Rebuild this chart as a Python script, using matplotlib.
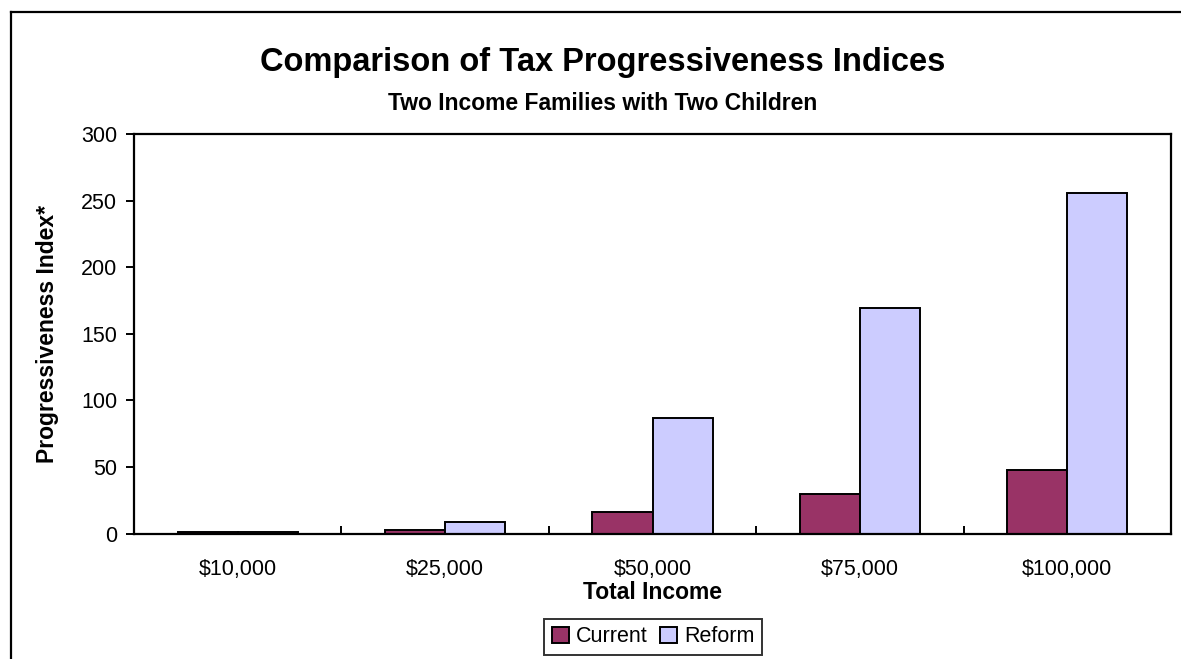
import matplotlib
matplotlib.use("Agg")
import matplotlib.pyplot as plt
from matplotlib.lines import Line2D
import numpy as np

plt.rcParams['font.family'] = ['Liberation Sans', 'DejaVu Sans']

categories = ["$10,000", "$25,000", "$50,000", "$75,000", "$100,000"]
current = [1.0, 3.0, 16.0, 29.5, 48.0]
reform = [1.5, 8.5, 86.5, 169.0, 256.0]
series_names = ["Current", "Reform"]
colors = ["#993366", "#CCCCFF"]

W, H = 1181, 659
fig = plt.figure(figsize=(W / 100, H / 100), dpi=100)
ax = fig.add_axes([134 / W, 1 - 533.5 / H, (1171 - 134) / W, (533.5 - 134) / H])

x = np.arange(len(categories))
bw = 0.29
ax.bar(x - bw / 2, current, bw, color=colors[0], edgecolor="black", linewidth=1.4, label=series_names[0])
ax.bar(x + bw / 2, reform, bw, color=colors[1], edgecolor="black", linewidth=1.4, label=series_names[1])

ax.set_xlim(-0.5, len(categories) - 0.5)
ax.set_ylim(0, 300)
ax.set_yticks(range(0, 301, 50))
ax.set_xticks(x)
ax.set_xticklabels(categories, fontsize=15.5)
ax.tick_params(axis='x', which='major', length=0, pad=18)
ax.set_xticks(np.arange(0.5, len(categories) - 0.5, 1), minor=True)
ax.tick_params(axis='x', which='minor', direction='in', length=6, width=1.4)
ax.tick_params(axis='y', direction='out', length=6, width=1.4, labelsize=15.5, pad=6)
for s in ax.spines.values():
    s.set_linewidth(1.6)

ax.set_xlabel("Total Income", fontsize=16.5, fontweight='bold', labelpad=1)
fig.text(48 / W, 1 - 334 / H, "Progressiveness Index*", rotation=90, fontsize=16.5,
         fontweight='bold', ha='center', va='center')

fig.text(603 / W, 1 - 62 / H, "Comparison of Tax Progressiveness Indices", fontsize=23.5,
         fontweight='bold', ha='center', va='center')
fig.text(603 / W, 1 - 103 / H, "Two Income Families with Two Children", fontsize=16.5,
         fontweight='bold', ha='center', va='center')

leg = fig.legend(loc='center', bbox_to_anchor=(653 / W, 1 - 637 / H), ncol=2, fontsize=15.5,
                 frameon=True, fancybox=False, edgecolor='black', handlelength=0.8,
                 handleheight=0.8, handletextpad=0.3, columnspacing=0.6, borderpad=0.35)
leg.get_frame().set_linewidth(1.4)

# outer chart border (left and top)
fig.add_artist(Line2D([11 / W, 11 / W], [0, 1 - 12 / H], color='black', lw=1.6, transform=fig.transFigure))
fig.add_artist(Line2D([11 / W, 1], [1 - 12 / H, 1 - 12 / H], color='black', lw=1.6, transform=fig.transFigure))

fig.savefig("out.png", dpi=100)
